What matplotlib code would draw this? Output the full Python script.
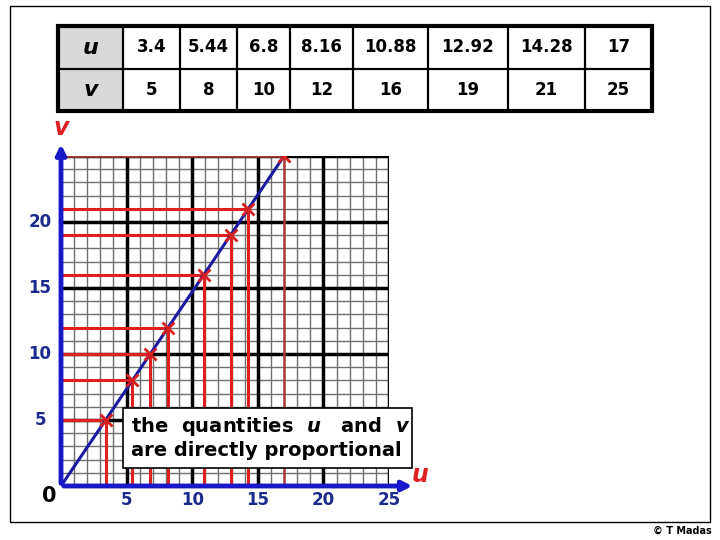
import numpy as np
import matplotlib.pyplot as plt
from matplotlib.patches import Rectangle

# table data
u_vals = [3.4, 5.44, 6.8, 8.16, 10.88, 12.92, 14.28, 17]
v_vals = [5, 8, 10, 12, 16, 19, 21, 25]
u_labels = ["3.4", "5.44", "6.8", "8.16", "10.88", "12.92", "14.28", "17"]
v_labels = ["5", "8", "10", "12", "16", "19", "21", "25"]
x_ticks = [5, 10, 15, 20, 25]
y_ticks = [5, 10, 15, 20]

NAVY = "#1c2a8c"
RED = "#e02020"
DARK_RED = "#b03a3a"

fig = plt.figure(figsize=(7.2, 5.4), dpi=100)

# background axes in pixel coordinates for frame and table
bg = fig.add_axes([0, 0, 1, 1])
bg.set_xlim(0, 720)
bg.set_ylim(540, 0)
bg.axis("off")

bg.add_patch(Rectangle((10, 6), 700, 516, fill=False, ec="black", lw=1))
bg.text(712, 531, "\u00a9 T Madas", ha="right", va="center", fontsize=7,
        fontweight="bold")

# table
col_edges = [58, 123, 180, 237, 290, 353, 428, 508, 585, 652]
row_edges = [26, 69, 111]
bg.add_patch(Rectangle((col_edges[0], row_edges[0]), col_edges[1] - col_edges[0],
                       row_edges[2] - row_edges[0], fc="#d9d9d9", ec="none"))
for x in col_edges[1:-1]:
    bg.plot([x, x], [row_edges[0], row_edges[2]], color="black", lw=1.6)
bg.plot([col_edges[0], col_edges[-1]], [row_edges[1], row_edges[1]], color="black", lw=1.6)
bg.add_patch(Rectangle((col_edges[0], row_edges[0]), col_edges[-1] - col_edges[0],
                       row_edges[2] - row_edges[0], fill=False, ec="black", lw=3))
for r, (name, labels) in enumerate([("u", u_labels), ("v", v_labels)]):
    yc = (row_edges[r] + row_edges[r + 1]) / 2
    bg.text((col_edges[0] + col_edges[1]) / 2, yc, name, ha="center", va="center",
            fontsize=16, fontweight="bold", style="italic")
    for i, lab in enumerate(labels):
        xc = (col_edges[i + 1] + col_edges[i + 2]) / 2
        bg.text(xc, yc, lab, ha="center", va="center", fontsize=12, fontweight="bold")

# graph axes: u 0..25 from x=61 to 389 px, v 0..25 from y=486 to 156 px
ax = fig.add_axes([61 / 720, (540 - 486) / 540, 328 / 720, 330 / 540])
ax.set_xlim(0, 25)
ax.set_ylim(0, 25)
ax.axis("off")

minor = [k for k in range(1, 26) if k % 5 != 0]
major = [5, 10, 15, 20, 25]
ax.vlines(minor, 0, 25, color="#707070", lw=1)
ax.hlines(minor, 0, 25, color="#707070", lw=1)
ax.vlines(major, 0, 25, color="black", lw=2.5)
ax.hlines(major, 0, 25, color="black", lw=2.5)

# projection lines to the axes
for i, (u, v) in enumerate(zip(u_vals, v_vals)):
    c = DARK_RED if i == len(u_vals) - 1 else RED
    w = 1.8 if i == len(u_vals) - 1 else 2.2
    ax.plot([u, u], [0, v], color=c, lw=w, zorder=3)
    ax.plot([0, u], [v, v], color=c, lw=w, zorder=3)

# line of proportionality
ax.plot([0, u_vals[-1]], [0, v_vals[-1]], color="#1a1aa0", lw=2.2, zorder=4)
ax.plot(u_vals, v_vals, "x", color="#d42020", ms=9, mew=2, zorder=5)

# axes with arrows
ax.annotate("", xy=(27.0, 0), xytext=(0, 0),
            arrowprops=dict(arrowstyle="-|>", color="#1818c8", lw=3.5,
                            mutation_scale=14), annotation_clip=False, zorder=6)
ax.annotate("", xy=(0, 26.1), xytext=(0, 0),
            arrowprops=dict(arrowstyle="-|>", color="#1818c8", lw=3.5,
                            mutation_scale=14), annotation_clip=False, zorder=6)
ax.text(27.4, 0.85, "u", color=RED, fontsize=17, fontweight="bold", style="italic",
        ha="center", va="center", clip_on=False)
ax.text(0.05, 27.1, "v", color=RED, fontsize=17, fontweight="bold", style="italic",
        ha="center", va="center", clip_on=False)

for t in x_ticks:
    ax.text(t, -1.05, str(t), color=NAVY, fontsize=12, fontweight="bold",
            ha="center", va="center", clip_on=False)
for t in y_ticks:
    ax.text(-1.6, t, str(t), color=NAVY, fontsize=12, fontweight="bold",
            ha="center", va="center", clip_on=False)
ax.text(-0.9, -0.75, "0", color="black", fontsize=15, fontweight="bold",
        ha="center", va="center", clip_on=False)

# statement box (drawn with the graph so it sits on top of the grid)
ax.add_patch(Rectangle((123, 408), 289, 60, transform=bg.transData, fc="white",
                       ec="black", lw=1.2, zorder=8, clip_on=False))
ax.text(131, 426, "the  quantities  $\\boldsymbol{u}$   and  $\\boldsymbol{v}$",
        transform=bg.transData, fontsize=14, fontweight="bold", ha="left",
        va="center", zorder=9, clip_on=False)
ax.text(131, 451, "are directly proportional", transform=bg.transData, fontsize=14,
        fontweight="bold", ha="left", va="center", zorder=9, clip_on=False)

fig.savefig("out.png", dpi=100)
